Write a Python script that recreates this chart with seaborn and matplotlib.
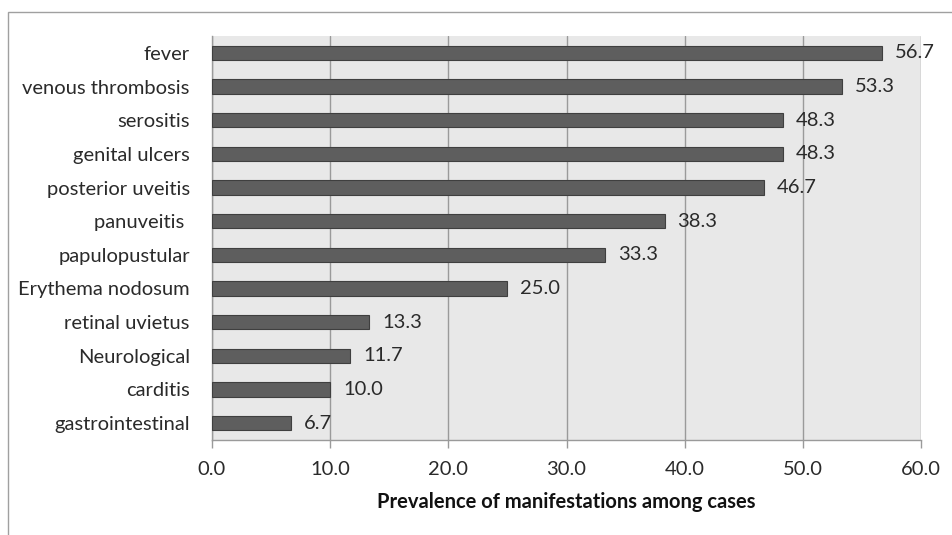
import matplotlib
matplotlib.use("Agg")
import matplotlib.pyplot as plt
import seaborn as sns
import pandas as pd
from matplotlib.patches import Rectangle

# Data
manifestations = ['fever', 'venous thrombosis', 'serositis', 'genital ulcers',
                  'posterior uveitis', 'panuveitis ', 'papulopustular', 'Erythema nodosum',
                  'retinal uvietus', 'Neurological', 'carditis', 'gastrointestinal']
prevalence = [56.7, 53.3, 48.3, 48.3, 46.7, 38.3, 33.3, 25.0, 13.3, 11.7, 10.0, 6.7]
x_ticks = [0, 10, 20, 30, 40, 50, 60]

df = pd.DataFrame({'manifestation': manifestations, 'prevalence': prevalence})

sns.set_theme(style='white')
plt.rcParams['font.family'] = ['Lato', 'DejaVu Sans']

fig = plt.figure(figsize=(9.52, 5.35), dpi=100)
ax = fig.add_axes([212 / 952, 1 - 440 / 535, (921 - 212) / 952, (440 - 36) / 535])

sns.barplot(data=df, y='manifestation', x='prevalence', orient='h', ax=ax,
            color='#5e5e5e', edgecolor='#3f3f3f', linewidth=0.8, width=0.42, zorder=3)

ax.set_facecolor('#e8e8e8')
ax.set_xlim(0, 60)
ax.set_xticks(x_ticks)
ax.set_xticklabels([f'{t:.1f}' for t in x_ticks], fontsize=14.5, color='#2a2a2a')
ax.tick_params(axis='x', length=6, width=1, color='#9a9a9a', pad=9, direction='out', bottom=True)
ax.tick_params(axis='y', length=0, pad=16, labelsize=14.5, labelcolor='#2a2a2a')
ax.xaxis.grid(True, color='#9a9a9a', linewidth=1, zorder=0)
ax.yaxis.grid(False)
ax.set_axisbelow(True)

for side in ['top', 'right']:
    ax.spines[side].set_visible(False)
for side in ['left', 'bottom']:
    ax.spines[side].set_color('#9a9a9a')
    ax.spines[side].set_linewidth(1)

ax.set_ylabel('')
ax.set_xlabel('Prevalence of manifestations among cases', fontsize=14.5,
              fontweight='bold', color='#111111', labelpad=10)

for i, v in enumerate(prevalence):
    ax.text(v + 1.1, i, f'{v:.1f}', va='center', ha='left', fontsize=14.5,
            color='#2a2a2a', zorder=4)

# outer chart border
fig.patches.append(Rectangle((8 / 952, -0.01), 1.0, 1 - 12 / 535 + 0.01,
                             transform=fig.transFigure, fill=False,
                             edgecolor='#a0a0a0', linewidth=1))

fig.savefig('out.png', dpi=100)
